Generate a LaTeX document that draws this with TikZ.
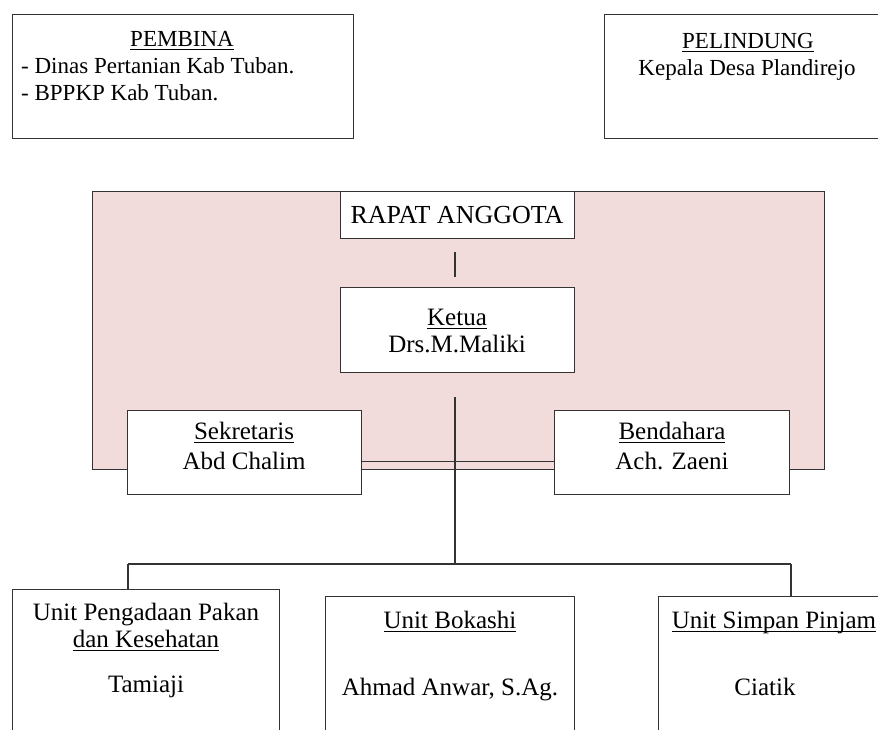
\documentclass[tikz,border=0pt]{standalone}
\usepackage{fontspec}
\setmainfont{Liberation Serif}
\definecolor{pinkbg}{HTML}{F2DCDB}
\definecolor{ln}{HTML}{333333}
\newcommand\myul[1]{\setbox0\hbox{#1}\rlap{\rule[-4pt]{\wd0}{1.4pt}}\box0}
\begin{document}
\begin{tikzpicture}[x=1pt,y=-1pt,
  box/.style={draw=ln, line width=1.4pt, fill=white, inner sep=0pt, anchor=north west},
  txt/.style={anchor=base, inner sep=0pt, font=\fontsize{25}{28}\selectfont},
  txts/.style={txt, font=\fontsize{23}{27}\selectfont},
  txtl/.style={txts, anchor=base west},
  conn/.style={draw=ln, line width=1.4pt}]
\useasboundingbox (0,0) rectangle (878,729);
\clip (0,0) rectangle (878,729);
% background panel
\node[box, fill=pinkbg, minimum width=732pt, minimum height=278pt] (panel) at (92,191) {};
% boxes top
\node[box, minimum width=341pt, minimum height=124pt] (pembina) at (12,14) {};
\node[box, minimum width=290pt, minimum height=124pt] (pelindung) at (604,14) {};
\node[box, minimum width=234pt, minimum height=47pt] (rapat) at (340,191) {};
\node[box, minimum width=234pt, minimum height=85pt] (ketua) at (340,287) {};
% connectors
\coordinate (r1) at (455,252);
\coordinate (r2) at (455,277);
\draw[conn] (r1) -- (r2);
\coordinate (k1) at (455,397);
\coordinate (k2) at (455,564);
\coordinate (jl) at (128,564);
\coordinate (jr) at (791,564);
\node[box, minimum width=234pt, minimum height=84pt] (sek) at (127,410) {};
\node[box, minimum width=235pt, minimum height=84pt] (bend) at (554,410) {};
\draw[conn] ([yshift=-9pt]sek.east) -- ([yshift=-9pt]bend.west);
\draw[conn] (k1) -- (k2);
\draw[conn] (jl) -- (jr);
% unit boxes
\node[box, minimum width=267pt, minimum height=170pt] (unit1) at (12,589) {};
\node[box, minimum width=249pt, minimum height=160pt] (unit2) at (325,596) {};
\node[box, minimum width=240pt, minimum height=160pt] (unit3) at (658,596) {};
\draw[conn] (jl) -- (jl |- unit1.north);
\draw[conn] (jr) -- (jr |- unit3.north);
% texts
\node[txts] (t1) at (182,46) {\myul{PEMBINA}};
\node[txtl] (t2) at (21,73) {- Dinas Pertanian Kab Tuban.};
\node[txtl] (t3) at (21,100) {- BPPKP Kab Tuban.};
\node[txts] (t4) at (748,48) {\myul{PELINDUNG}};
\node[txts] (t5) at (747,75) {Kepala Desa Plandirejo};
\node[txt, font=\fontsize{26}{28}\selectfont] (t6) at (457,223) {RAPAT ANGGOTA};
\node[txt] (t7) at (457,325) {\myul{Ketua}};
\node[txt] (t8) at (457,352) {Drs.M.Maliki};
\node[txt] (t9) at (244,439) {\myul{Sekretaris}};
\node[txt] (t10) at (244,469) {Abd Chalim};
\node[txt] (t11) at (672,439) {\myul{Bendahara}};
\node[txt] (t12) at (672,469) {Ach. Zaeni};
\node[txt] (t13) at (146,620) {Unit Pengadaan Pakan};
\node[txt] (t14) at (146,647) {\myul{dan Kesehatan}};
\node[txt] (t15) at (146,692) {Tamiaji};
\node[txt] (t16) at (450,628) {\myul{Unit Bokashi}};
\node[txt] (t17) at (450,695) {Ahmad Anwar, S.Ag.};
\node[txt] (t18) at (774,628) {\myul{Unit Simpan Pinjam}};
\node[txt] (t19) at (765,695) {Ciatik};
\end{tikzpicture}
\end{document}
